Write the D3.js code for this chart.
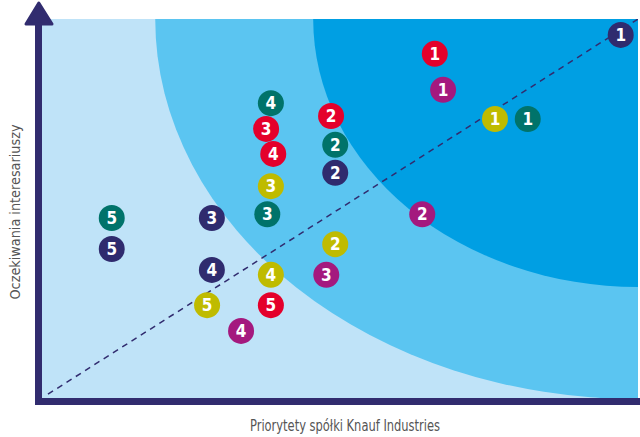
<!DOCTYPE html>
<html>
<head>
<meta charset="utf-8">
<script src="https://cdn.jsdelivr.net/npm/d3@7"></script>
<style>
    body { margin: 0; background: #fff; }
    svg { display: block; }
</style>
</head>
<body>
<svg id="chart" width="640" height="437"></svg>
<script>
// series = colour groups, rank = label in the circle
const series = ['red', 'magenta', 'teal', 'navy', 'yellow'];
const seriesColors = ['#e4002b', '#a4197e', '#00736a', '#2f2b6e', '#bfbb00'];

const redPoints = [[65.9, 90.8, 1], [48.5, 74.4, 2], [37.6, 71.0, 3], [38.8, 64.4, 4], [38.4, 24.5, 5]];
const magentaPoints = [[67.3, 81.3, 1], [63.8, 48.5, 2], [47.7, 32.5, 3], [33.4, 17.7, 4]];
const tealPoints = [[81.5, 73.6, 1], [49.2, 66.8, 2], [37.8, 48.5, 3], [38.4, 77.8, 4], [11.7, 47.5, 5]];
const navyPoints = [[97.1, 95.8, 1], [49.2, 59.4, 2], [28.5, 47.5, 3], [28.5, 33.8, 4], [11.7, 39.3, 5]];
const yellowPoints = [[76.0, 73.6, 1], [49.2, 40.6, 2], [38.4, 55.9, 3], [38.4, 32.5, 4], [27.7, 24.5, 5]];

// zones: ellipses centred on the top-right corner (rx, ry in data units)
const zones = [[81.0, 100.3], [54.5, 70.7]];
const zoneColors = ['#5bc5f1', '#009fe3'];

const xTitle = 'Priorytety spółki Knauf Industries';
const yTitle = 'Oczekiwania interesariuszy';

const svg = d3.select('#chart');
const x = d3.scaleLinear().domain([0, 100]).range([42, 638]);
const y = d3.scaleLinear().domain([0, 100]).range([398, 19]);
const navy = '#312c6f';

svg.append('defs').append('clipPath')
    .attr('id', 'plot-clip')
    .append('rect')
    .attr('x', x(0)).attr('y', y(100))
    .attr('width', x(100) - x(0)).attr('height', y(0) - y(100));

const plot = svg.append('g').attr('clip-path', 'url(#plot-clip)');

plot.append('rect')
    .attr('x', x(0)).attr('y', y(100))
    .attr('width', x(100) - x(0)).attr('height', y(0) - y(100))
    .attr('fill', '#bfe3f8');

plot.selectAll('ellipse')
    .data(zones)
    .enter()
    .append('ellipse')
    .attr('cx', x(100))
    .attr('cy', y(100))
    .attr('rx', d => x(d[0]) - x(0))
    .attr('ry', d => y(0) - y(d[1]))
    .attr('fill', (d, i) => zoneColors[i]);

plot.append('line')
    .attr('x1', x(1)).attr('y1', y(1))
    .attr('x2', x(100)).attr('y2', y(100))
    .attr('stroke', navy)
    .attr('stroke-width', 1.5)
    .attr('stroke-dasharray', '6,5');

const allPoints = [redPoints, magentaPoints, tealPoints, navyPoints, yellowPoints];
const points = [];
allPoints.forEach((list, i) => {
    list.forEach(p => points.push({ x: p[0], y: p[1], rank: p[2], color: seriesColors[i], s: series[i] }));
});

const dots = svg.append('g')
    .selectAll('g')
    .data(points)
    .enter()
    .append('g')
    .attr('transform', d => `translate(${x(d.x)},${y(d.y)})`);

dots.append('circle')
    .attr('r', 13)
    .attr('fill', d => d.color);

dots.append('text')
    .attr('text-anchor', 'middle')
    .attr('dy', '0.36em')
    .attr('fill', '#fff')
    .style('font-family', '"Liberation Sans Narrow", "DejaVu Sans Condensed", sans-serif')
    .style('font-weight', 'bold')
    .style('font-size', '17px')
    .text(d => d.rank);

// axes
svg.append('line')
    .attr('x1', 35).attr('y1', 401.5)
    .attr('x2', 640).attr('y2', 401.5)
    .attr('stroke', navy)
    .attr('stroke-width', 7);

svg.append('line')
    .attr('x1', 38.5).attr('y1', 20)
    .attr('x2', 38.5).attr('y2', 405)
    .attr('stroke', navy)
    .attr('stroke-width', 7);

svg.append('path')
    .attr('d', 'M38.8,3 L26,24 L52,24 Z')
    .attr('fill', navy)
    .attr('stroke', navy)
    .attr('stroke-width', 3)
    .attr('stroke-linejoin', 'round');

const labelFont = '"Liberation Sans Narrow", "DejaVu Sans Condensed", sans-serif';

svg.append('text')
    .attr('x', 345)
    .attr('y', 431)
    .attr('text-anchor', 'middle')
    .attr('fill', '#555')
    .attr('textLength', 190)
    .attr('lengthAdjust', 'spacingAndGlyphs')
    .style('font-family', labelFont)
    .style('font-size', '15px')
    .text(xTitle);

svg.append('text')
    .attr('transform', 'translate(20,212) rotate(-90)')
    .attr('text-anchor', 'middle')
    .attr('fill', '#555')
    .attr('textLength', 175)
    .attr('lengthAdjust', 'spacingAndGlyphs')
    .style('font-family', labelFont)
    .style('font-size', '14px')
    .text(yTitle);
</script>
</body>
</html>
